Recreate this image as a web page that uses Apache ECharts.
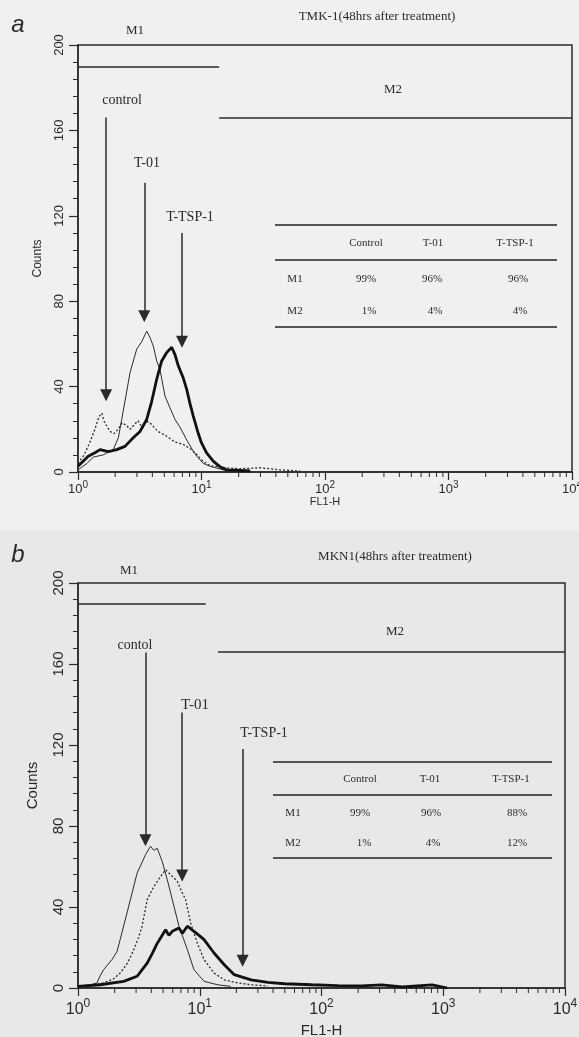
<!DOCTYPE html>
<html>
<head>
<meta charset="utf-8">
<script src="https://cdn.jsdelivr.net/npm/echarts@6/dist/echarts.min.js"></script>
<style>
  html, body { margin: 0; padding: 0; background: #efefef; }
  #chart { width: 579px; height: 1037px; }
</style>
</head>
<body>
<div id="chart"></div>
<script>
// axis ticks
const yTicks = [0, 40, 80, 120, 160, 200];
const xMin = 1, xMax = 10000;
const minorTickValues = [2, 3, 4, 5, 6, 7, 8, 9, 20, 30, 40, 50, 60, 70, 80, 90,
  200, 300, 400, 500, 600, 700, 800, 900, 2000, 3000, 4000, 5000, 6000, 7000, 8000, 9000];

// panel a : TMK-1, [FL1-H, counts]
const aControl = [[1.0, 4], [1.12, 8], [1.25, 14], [1.37, 20], [1.48, 26], [1.56, 27.5], [1.62, 24],
  [1.69, 22], [1.82, 19], [1.96, 18], [2.11, 20], [2.27, 23], [2.45, 22], [2.64, 20], [2.84, 22],
  [3.06, 24], [3.3, 21], [3.55, 24], [3.83, 23], [4.12, 21], [4.44, 19], [4.79, 18], [5.16, 17],
  [6.1, 14], [7.08, 13], [8.07, 11], [9.2, 8], [10.3, 5], [11.7, 3], [15.5, 2], [20.5, 1.5],
  [29.8, 2], [43.2, 1], [62.8, 0.5]];
const aT01 = [[1.0, 1], [1.18, 4], [1.33, 7], [1.6, 8], [1.93, 10.5], [2.12, 16], [2.26, 24.6],
  [2.45, 36], [2.64, 46.6], [2.99, 57.6], [3.28, 61], [3.6, 66], [3.83, 63], [4.07, 59], [4.34, 52],
  [4.61, 48], [5.06, 35.6], [5.56, 30], [6.1, 24.6], [6.7, 21], [7.59, 15], [8.33, 11], [9.15, 7.4],
  [10.35, 4], [11.7, 2.7], [15.0, 1], [25, 0.5]];
const aTSP1 = [[1.0, 2.7], [1.1, 5], [1.21, 7.4], [1.37, 9], [1.51, 10.5], [1.76, 9.5], [2.06, 10.5],
  [2.4, 12], [2.8, 16], [3.18, 19], [3.6, 24.6], [3.95, 33], [4.34, 43.5], [4.76, 52], [5.23, 56],
  [5.74, 58.4], [6.1, 55], [6.49, 49.7], [7.12, 44], [7.59, 38.7], [8.07, 32], [8.58, 26.2],
  [9.42, 18], [10.0, 13.6], [11.0, 9], [12.5, 5], [14.1, 2.5], [16.0, 1], [24.7, 0.5]];

// panel b : MKN1, [FL1-H, counts]
const bControl = [[1.0, 0.8], [1.26, 1.5], [1.43, 2.5], [1.52, 6], [1.62, 9], [1.9, 14], [2.09, 18],
  [2.22, 23.9], [2.6, 40], [3.06, 56.8], [3.36, 62], [3.58, 65.8], [3.94, 70], [4.19, 68],
  [4.47, 69], [4.92, 62.5], [5.41, 53.5], [5.95, 43.6], [6.75, 30.5], [7.91, 19], [8.97, 9],
  [10.85, 3.3], [14.0, 1.6], [18.0, 0.8]];
const bT01 = [[1.0, 0.5], [1.62, 2.5], [1.96, 4.5], [2.22, 7.4], [2.53, 12], [2.78, 17], [3.15, 25],
  [3.36, 30.5], [3.7, 43.6], [4.19, 50], [4.76, 55], [5.24, 58.4], [5.76, 56], [6.54, 52.7],
  [7.19, 47], [7.66, 43.6], [8.42, 32], [9.57, 22], [10.85, 14], [13.1, 7.4], [15.9, 4],
  [20.5, 2.5], [26.4, 1.6], [36.3, 1]];
const bTSP1 = [[1.0, 0.8], [1.52, 1.6], [2.37, 3.3], [3.06, 5.8], [3.7, 12.3], [4.07, 17], [4.47, 22],
  [5.24, 28.8], [5.58, 26], [5.95, 28], [6.75, 29.6], [7.19, 27], [7.91, 30.5], [8.97, 28],
  [9.87, 26], [10.85, 23.9], [13.1, 17.3], [15.9, 11.5], [19.2, 6.6], [26.4, 4], [36.3, 2.8],
  [49.8, 2.1], [82.7, 1.6], [137, 1.2], [214, 1], [313, 1.5], [458, 0.5], [811, 1.5], [1079, 0]];

// gates and arrows, data coordinates
const aGates = { m1: [1, 13.9, 190], m2: [13.9, 10000, 166] };
const bGates = { m1: [1, 11.2, 190], m2: [14.1, 10000, 166] };
const aArrows = [[1.69, 166, 36], [3.44, 135.5, 73], [6.95, 112, 61]];
const bArrows = [[3.58, 165.7, 73], [7.17, 136, 55.5], [22.5, 118, 13.5]];

const serif = 'Liberation Serif';
const sans = 'Liberation Sans';
const ink = '#2a2a2a';

const chart = echarts.init(document.getElementById('chart'));

function xAxisFor(idx, big) {
  return {
    type: 'log', gridIndex: idx, logBase: 10, min: xMin, max: xMax,
    name: 'FL1-H', nameLocation: 'middle', nameGap: big ? 35 : 23,
    nameTextStyle: { fontFamily: sans, fontSize: big ? 15 : 11, color: ink },
    axisLine: { lineStyle: { color: ink, width: 1.5 } },
    axisTick: { inside: false, length: 8, lineStyle: { color: ink, width: 1.2 } },
    splitLine: { show: false },
    axisLabel: {
      margin: big ? 10 : 8,
      formatter: v => '{b|10}{s|' + Math.round(Math.log10(v)) + '}',
      rich: {
        b: { fontFamily: sans, fontSize: big ? 16 : 13, color: ink, lineHeight: big ? 20 : 16, verticalAlign: 'bottom' },
        s: { fontFamily: sans, fontSize: big ? 12 : 10, color: ink, lineHeight: big ? 20 : 16, verticalAlign: 'top' }
      }
    }
  };
}

function yAxisFor(idx, big) {
  return {
    type: 'value', gridIndex: idx, min: yTicks[0], max: yTicks[yTicks.length - 1], interval: 40,
    name: 'Counts', nameLocation: 'middle', nameGap: big ? 38 : 34, nameRotate: 90,
    nameTextStyle: { fontFamily: sans, fontSize: big ? 15 : 12, color: ink },
    axisLine: { show: true, lineStyle: { color: ink, width: 1.5 } },
    axisTick: { show: true, length: 9, lineStyle: { color: ink, width: 1.2 } },
    minorTick: { show: true, splitNumber: 5, length: 5, lineStyle: { color: ink, width: 1 } },
    splitLine: { show: false },
    axisLabel: { rotate: 90, margin: 12, fontFamily: sans, fontSize: big ? 15 : 13, color: ink }
  };
}

function histo(idx, data, kind) {
  const style = kind === 'dotted' ? { color: ink, width: 1.3, type: [2, 2] }
    : kind === 'thick' ? { color: '#111', width: 2.8 } : { color: ink, width: 1 };
  return {
    type: 'line', xAxisIndex: idx, yAxisIndex: idx, data: data, showSymbol: false,
    lineStyle: style, z: kind === 'thick' ? 4 : 3, silent: true
  };
}

function minorTicks(idx) {
  return {
    type: 'custom', xAxisIndex: idx, yAxisIndex: idx, clip: false, silent: true, z: 5,
    data: minorTickValues.map(v => [v, 0]),
    renderItem: (params, api) => {
      const p = api.coord([api.value(0), 0]);
      return { type: 'line', shape: { x1: p[0], y1: p[1], x2: p[0], y2: p[1] + 5 }, style: { stroke: ink, lineWidth: 1 } };
    }
  };
}

function marks(idx, gates, arrows) {
  const lines = [
    [{ coord: [gates.m1[0], gates.m1[2]] }, { coord: [gates.m1[1], gates.m1[2]] }],
    [{ coord: [gates.m2[0], gates.m2[2]] }, { coord: [gates.m2[1], gates.m2[2]] }]
  ];
  const arr = arrows.map(a => [
    { coord: [a[0], a[1]] },
    { coord: [a[0], a[2]], symbol: 'triangle', symbolSize: 12, symbolRotate: 180 }
  ]);
  return {
    type: 'line', xAxisIndex: idx, yAxisIndex: idx, data: [], silent: true,
    markLine: {
      silent: true, animation: false, symbol: ['none', 'none'], symbolSize: 12,
      label: { show: false },
      lineStyle: { color: ink, width: 1.5, type: 'solid' },
      emphasis: { disabled: true },
      data: lines.concat(arr)
    }
  };
}

function txt(x, y, text, size, family, italic) {
  return {
    type: 'text', x: x, y: y, silent: true,
    style: {
      text: text, fontFamily: family || serif, fontSize: size, fontStyle: italic ? 'italic' : 'normal',
      fill: ink, align: 'center', verticalAlign: 'middle'
    }
  };
}

function hline(x1, x2, y, w) {
  return { type: 'line', silent: true, shape: { x1: x1, y1: y, x2: x2, y2: y }, style: { stroke: '#222', lineWidth: w || 1.6 } };
}

const graphics = [
  { type: 'rect', z: -10, silent: true, shape: { x: 0, y: 530, width: 579, height: 507 }, style: { fill: '#e8e8e8' } },
  txt(18, 25, 'a', 24, sans, true),
  txt(18, 555, 'b', 24, sans, true),
  txt(377, 17, 'TMK-1(48hrs after treatment)', 13),
  txt(395, 557, 'MKN1(48hrs after treatment)', 13),
  txt(135, 31, 'M1', 13), txt(393, 90, 'M2', 13),
  txt(129, 571, 'M1', 13), txt(395, 632, 'M2', 13),
  txt(122, 100, 'control', 14), txt(147, 163, 'T-01', 14), txt(190, 217, 'T-TSP-1', 14),
  txt(135, 645, 'contol', 14), txt(195, 705, 'T-01', 15), txt(264, 733, 'T-TSP-1', 14),
  // table a
  hline(275, 557, 225), hline(275, 557, 260), hline(275, 557, 327),
  txt(366, 243, 'Control', 11), txt(433, 243, 'T-01', 11), txt(515, 243, 'T-TSP-1', 11),
  txt(295, 279, 'M1', 11), txt(366, 279, '99%', 11), txt(432, 279, '96%', 11), txt(518, 279, '96%', 11),
  txt(295, 311, 'M2', 11), txt(369, 311, '1%', 11), txt(435, 311, '4%', 11), txt(520, 311, '4%', 11),
  // table b
  hline(273, 552, 762), hline(273, 552, 795), hline(273, 552, 858),
  txt(360, 779, 'Control', 11), txt(430, 779, 'T-01', 11), txt(511, 779, 'T-TSP-1', 11),
  txt(293, 813, 'M1', 11), txt(360, 813, '99%', 11), txt(431, 813, '96%', 11), txt(517, 813, '88%', 11),
  txt(293, 843, 'M2', 11), txt(364, 843, '1%', 11), txt(433, 843, '4%', 11), txt(517, 843, '12%', 11)
];

chart.setOption({
  backgroundColor: '#f0f0f0',
  animation: false,
  grid: [
    { left: 78, top: 45, width: 494, height: 427, show: true, borderColor: ink, borderWidth: 1.5,
      backgroundColor: 'transparent', outerBoundsMode: 'none', containLabel: false },
    { left: 78, top: 583, width: 487, height: 405, show: true, borderColor: ink, borderWidth: 1.5,
      backgroundColor: 'transparent', outerBoundsMode: 'none', containLabel: false }
  ],
  xAxis: [xAxisFor(0, false), xAxisFor(1, true)],
  yAxis: [yAxisFor(0, false), yAxisFor(1, true)],
  series: [
    histo(0, aControl, 'dotted'), histo(0, aT01, 'thin'), histo(0, aTSP1, 'thick'),
    histo(1, bControl, 'thin'), histo(1, bT01, 'dotted'), histo(1, bTSP1, 'thick'),
    minorTicks(0), minorTicks(1),
    marks(0, aGates, aArrows), marks(1, bGates, bArrows)
  ],
  graphic: graphics
});
</script>
</body>
</html>
